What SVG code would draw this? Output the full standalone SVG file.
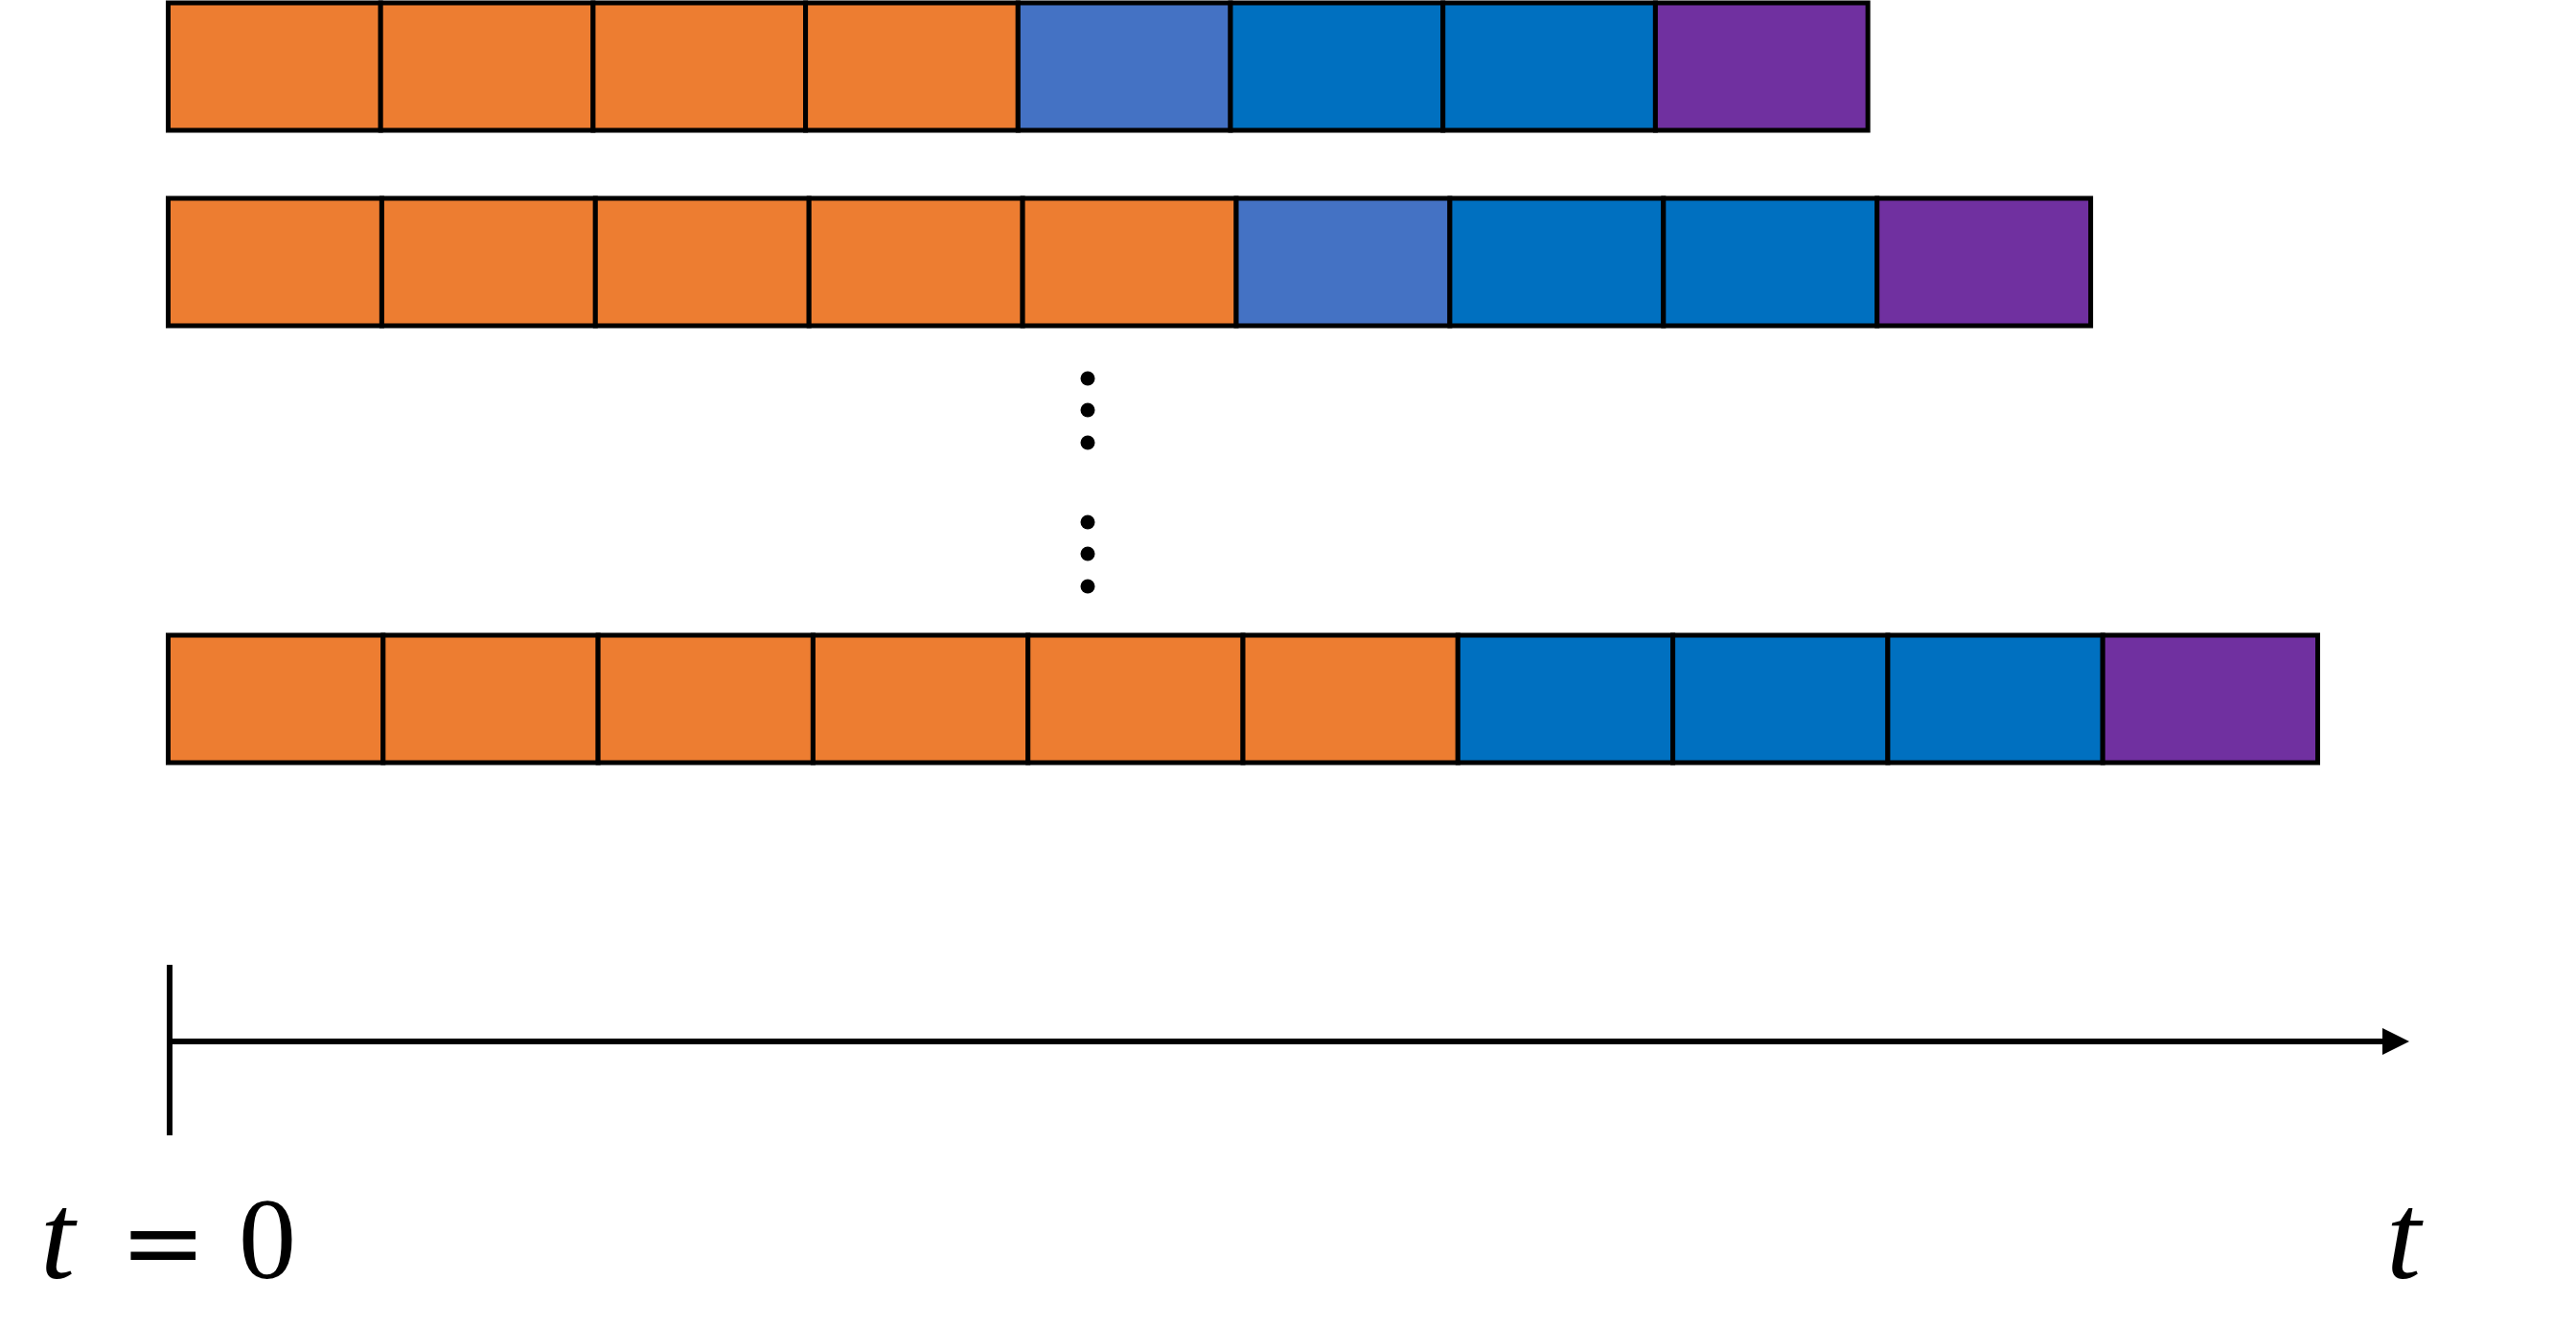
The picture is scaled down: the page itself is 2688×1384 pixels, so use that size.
<svg xmlns="http://www.w3.org/2000/svg" width="2688" height="1384" viewBox="0 0 2688 1384">
<defs>
<style>
.c{stroke:#000;stroke-width:5}
.o{fill:#ED7D31}
.lb{fill:#4472C4}
.b{fill:#0070C0}
.p{fill:#7030A0}
.dot{fill:#000}
.ax{stroke:#000;stroke-width:6;fill:none}
.lbl{font-family:"Liberation Serif","DejaVu Serif",serif;font-size:116px;fill:#000}
.tv{font-size:130px;font-style:italic}
.eq{font-family:"DejaVu Serif","Liberation Serif",serif;font-size:108px}
</style>
<marker id="arr" markerUnits="userSpaceOnUse" markerWidth="30" markerHeight="30" refX="0" refY="14" orient="auto" viewBox="0 0 30 28">
<polygon points="0,0 28,14 0,28" fill="#000"/>
</marker>
</defs>
<rect width="2688" height="1384" fill="#fff"/>
<g id="row1">
<rect class="c o" x="175.5" y="3" width="221.7" height="133"/>
<rect class="c o" x="397.2" y="3" width="221.7" height="133"/>
<rect class="c o" x="618.9" y="3" width="221.7" height="133"/>
<rect class="c o" x="840.6" y="3" width="221.7" height="133"/>
<rect class="c lb" x="1062.3" y="3" width="221.7" height="133"/>
<rect class="c b" x="1284" y="3" width="221.7" height="133"/>
<rect class="c b" x="1505.7" y="3" width="221.7" height="133"/>
<rect class="c p" x="1727.4" y="3" width="221.7" height="133"/>
</g>
<g id="row2">
<rect class="c o" x="175.5" y="207" width="222.9" height="133"/>
<rect class="c o" x="398.4" y="207" width="222.9" height="133"/>
<rect class="c o" x="621.3" y="207" width="222.9" height="133"/>
<rect class="c o" x="844.2" y="207" width="222.9" height="133"/>
<rect class="c o" x="1067.1" y="207" width="222.9" height="133"/>
<rect class="c lb" x="1290" y="207" width="222.9" height="133"/>
<rect class="c b" x="1512.9" y="207" width="222.9" height="133"/>
<rect class="c b" x="1735.8" y="207" width="222.9" height="133"/>
<rect class="c p" x="1958.7" y="207" width="222.9" height="133"/>
</g>
<g id="dots">
<circle class="dot" cx="1135" cy="395" r="7.5"/>
<circle class="dot" cx="1135" cy="428" r="7.5"/>
<circle class="dot" cx="1135" cy="462" r="7.5"/>
<circle class="dot" cx="1135" cy="545" r="7.5"/>
<circle class="dot" cx="1135" cy="578" r="7.5"/>
<circle class="dot" cx="1135" cy="612" r="7.5"/>
</g>
<g id="row3">
<rect class="c o" x="175.5" y="663" width="224.3" height="133"/>
<rect class="c o" x="399.8" y="663" width="224.3" height="133"/>
<rect class="c o" x="624.1" y="663" width="224.3" height="133"/>
<rect class="c o" x="848.4" y="663" width="224.3" height="133"/>
<rect class="c o" x="1072.7" y="663" width="224.3" height="133"/>
<rect class="c o" x="1297" y="663" width="224.3" height="133"/>
<rect class="c b" x="1521.3" y="663" width="224.3" height="133"/>
<rect class="c b" x="1745.6" y="663" width="224.3" height="133"/>
<rect class="c b" x="1969.9" y="663" width="224.3" height="133"/>
<rect class="c p" x="2194.2" y="663" width="224.3" height="133"/>
</g>
<g id="axis">
<line class="ax" x1="177" y1="1007" x2="177" y2="1185"/>
<line class="ax" x1="177" y1="1087" x2="2486" y2="1087" marker-end="url(#arr)"/>
</g>
<g id="labels">
<text class="lbl" y="1334"><tspan class="tv" x="42">t</tspan><tspan class="eq" x="125">=</tspan><tspan x="249" font-size="120">0</tspan></text>
<text class="lbl tv" x="2490" y="1334">t</text>
</g>
</svg>
